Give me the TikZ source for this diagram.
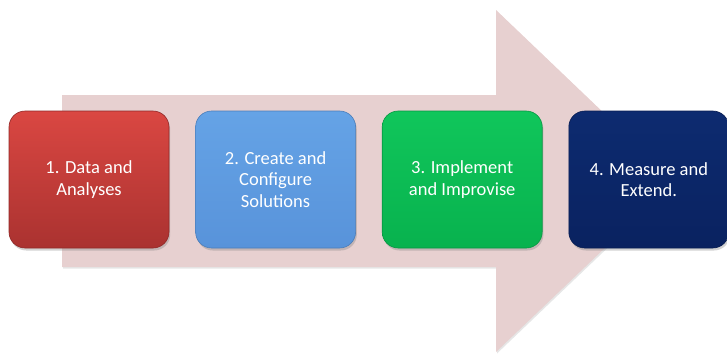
\documentclass[tikz,border=0pt]{standalone}
\usepackage{fontspec}
\setmainfont{Carlito}
\usetikzlibrary{positioning,shadows}
\definecolor{arrowpink}{HTML}{E7D0D0}
\definecolor{redtop}{HTML}{DA4742}
\definecolor{redbot}{HTML}{AA3230}
\definecolor{bluetop}{HTML}{65A3E6}
\definecolor{bluebot}{HTML}{5893DA}
\definecolor{greentop}{HTML}{10C65B}
\definecolor{greenbot}{HTML}{08B24E}
\definecolor{navytop}{HTML}{0D2B70}
\definecolor{navybot}{HTML}{0A2260}
\tikzset{
  stage/.style={
    rounded corners=16pt, minimum width=160pt, minimum height=137pt,
    align=center, inner sep=4pt, text=white,
    font=\fontsize{18.5}{21.5}\selectfont, line width=0.6pt,
    drop shadow={opacity=0.35, shadow xshift=1.2pt, shadow yshift=-2.5pt},
  },
  stagered/.style  ={stage, top color=redtop,   bottom color=redbot,   draw=redbot!85!black},
  stageblue/.style ={stage, top color=bluetop,  bottom color=bluebot,  draw=bluebot!85!black},
  stagegreen/.style={stage, top color=greentop, bottom color=greenbot, draw=greenbot!85!black},
  stagenavy/.style ={stage, top color=navytop,  bottom color=navybot,  draw=navybot!85!black},
  flowarrow/.style ={fill=arrowpink,
    drop shadow={opacity=0.2, shadow xshift=1pt, shadow yshift=-1.5pt}},
}

\begin{document}
\begin{tikzpicture}[x=1pt, y=-1pt]
\useasboundingbox (0,0) rectangle (727,354);

% big arrow behind the four stages
\path[flowarrow] (62,95) -- (496,95) -- (496,10) -- (675,181)
  -- (496,352) -- (496,267) -- (62,267) -- cycle;

% the stages, left to right
\node[stagered] (data) at (89,179.5) {1. Data and\\Analyses};
\node[stageblue, right=26pt of data] (config) {2. Create and\\Configure\\Solutions};
\node[stagegreen, right=26pt of config] (improve) {3. Implement\\and Improvise};
\node[stagenavy, right=26pt of improve] (extend) {4. Measure and\\Extend.};

\end{tikzpicture}
\end{document}
